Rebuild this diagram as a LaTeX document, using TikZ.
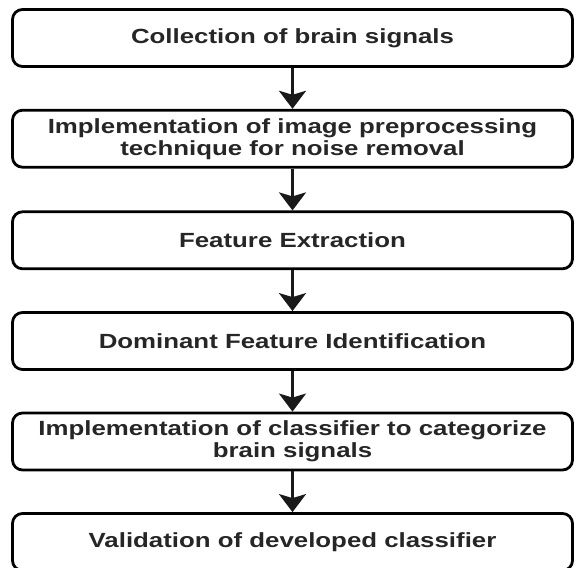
\documentclass[tikz,border=0pt]{standalone}
\usepackage{fontspec}
\usetikzlibrary{arrows.meta}
\newfontfamily\boxfont[FakeStretch=1.26]{Liberation Sans}
\tikzset{
  stagebox/.style={draw=black, line width=2.8pt, rounded corners=10pt,
    minimum width=560pt, minimum height=57pt, align=center,
    font=\boxfont\bfseries\fontsize{20.5}{22}\selectfont, text=black!85},
  flowarrow/.style={line width=2.8pt, draw=black!90,
    -{Stealth[length=18pt,width=27pt,inset=4pt]}}
}
\begin{document}
\begin{tikzpicture}[x=1pt,y=1pt]
  \useasboundingbox (0,0) rectangle (575,-567);
  \clip (0,0) rectangle (575,-567);
  \node[stagebox] (s1) at (292.5,-38)    {Collection of brain signals};
  \node[stagebox] (s2) at (292.5,-138.7) {Implementation of image preprocessing\\technique for noise removal};
  \node[stagebox] (s3) at (292.5,-240.3) {Feature Extraction};
  \node[stagebox] (s4) at (292.5,-341)   {Dominant Feature Identification};
  \node[stagebox] (s5) at (292.5,-441.5) {Implementation of classifier to categorize\\brain signals};
  \node[stagebox] (s6) at (292.5,-542)   {Validation of developed classifier};
  \foreach \a/\b in {s1/s2, s2/s3, s3/s4, s4/s5, s5/s6}
    \draw[flowarrow] (\a.south) -- (\b.north);
\end{tikzpicture}
\end{document}
